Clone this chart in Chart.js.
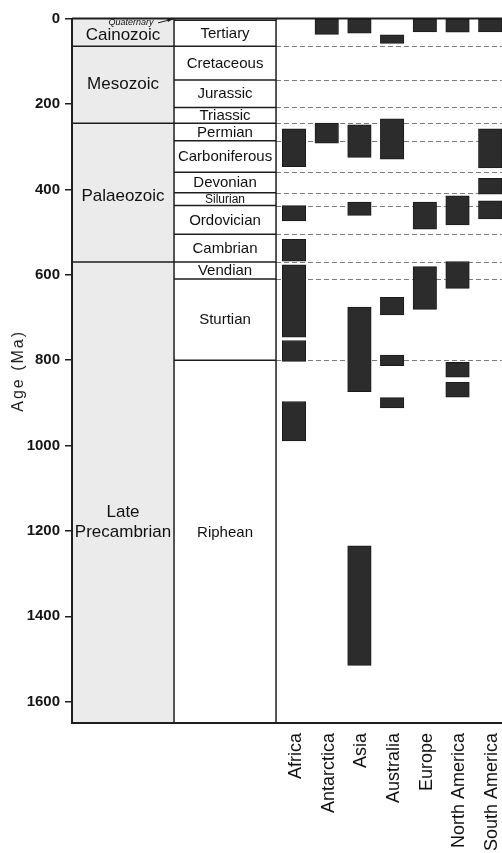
<!DOCTYPE html>
<html>
<head>
<meta charset="utf-8">
<script src="https://cdn.jsdelivr.net/npm/chart.js@4/dist/chart.umd.min.js"></script>
<style>
  html, body { margin: 0; padding: 0; background: #ffffff; overflow: hidden; }
  #wrap { width: 502px; height: 853px; }
</style>
</head>
<body>
<div id="wrap"><canvas id="c" width="502" height="853"></canvas></div>
<script>
// ---------------- data ----------------
const continents = ['Africa', 'Antarctica', 'Asia', 'Australia', 'Europe', 'North America', 'South America'];

// glaciation age ranges (Ma) per continent
const africa       = [[258, 347], [438, 474], [517, 568], [577, 746], [754, 803], [897, 989]];
const antarctica   = [[0, 37], [245, 292]];
const asia         = [[0, 34], [249, 325], [430, 461], [676, 874], [1235, 1515]];
const australia    = [[38, 58], [235, 329], [653, 694], [788, 813], [888, 912]];
const europe       = [[0, 31], [430, 493], [581, 681]];
const northAmerica = [[0, 32], [415, 483], [569, 632], [805, 840], [852, 887]];
const southAmerica = [[0, 31], [258, 350], [374, 411], [427, 469]];

// geological time scale (Ma)
const eras       = ['Cainozoic', 'Mesozoic', 'Palaeozoic', 'Late\nPrecambrian'];
const eraBounds  = [0, 65, 245, 570, 1650];
const periods    = ['Quaternary', 'Tertiary', 'Cretaceous', 'Jurassic', 'Triassic', 'Permian', 'Carboniferous',
                    'Devonian', 'Silurian', 'Ordovician', 'Cambrian', 'Vendian', 'Sturtian', 'Riphean'];
const periodBounds = [0, 4, 65, 144, 208, 245, 286, 360, 408, 438, 505, 570, 610, 800, 1650];

const ageTicks = [0, 200, 400, 600, 800, 1000, 1200, 1400, 1600];
const yTitle = 'Age (Ma)';

// ---------------- layout (x-scale units) ----------------
const X_MIN = -6.24, X_MAX = 6.91;
const ERA_L = -6.24, ERA_R = -3.12, PER_R = 0;
const CAT_OFFSET = 0.55;
const FONT = "'Liberation Sans', Arial, Helvetica, sans-serif";
// label anchor overrides (age at which a label is centred)
const eraLabelAt = [38, 155, 416, 1181];
const periodLabelAt = { 'Riphean': 1204 };

const ranges = [africa, antarctica, asia, australia, europe, northAmerica, southAmerica];
const barData = [];
ranges.forEach((list, i) => list.forEach(r => barData.push({ x: i + CAT_OFFSET, y: r })));

const tablePlugin = {
  id: 'geoTable',
  beforeDatasetsDraw(chart) {
    const { ctx, chartArea: ca, scales: { x, y } } = chart;
    const xe0 = x.getPixelForValue(ERA_L), xe1 = x.getPixelForValue(ERA_R), xp1 = x.getPixelForValue(PER_R);
    const yTop = y.getPixelForValue(0), yBot = y.getPixelForValue(1650);
    ctx.save();
    // era column fill
    ctx.fillStyle = '#ebebeb';
    ctx.fillRect(xe0 + 1, yTop, xe1 - xe0 - 1, yBot - yTop - 1);
    // dashed guide lines in data area
    ctx.strokeStyle = '#7a7a7a';
    ctx.lineWidth = 1;
    ctx.setLineDash([5, 3]);
    periodBounds.forEach(b => {
      if (b <= 4 || b >= 1650) return;
      const py = Math.round(y.getPixelForValue(b)) + 0.5;
      ctx.beginPath(); ctx.moveTo(xp1, py); ctx.lineTo(ca.right, py); ctx.stroke();
    });
    ctx.setLineDash([]);
    // solid table lines
    ctx.strokeStyle = '#1e1e1e';
    ctx.lineWidth = 1.5;
    periodBounds.forEach(b => {
      if (b <= 0 || b >= 1650) return;
      const py = y.getPixelForValue(b);
      ctx.beginPath(); ctx.moveTo(xe1, py); ctx.lineTo(xp1, py); ctx.stroke();
    });
    eraBounds.forEach(b => {
      if (b <= 0 || b >= 1650) return;
      const py = y.getPixelForValue(b);
      ctx.beginPath(); ctx.moveTo(xe0, py); ctx.lineTo(xe1, py); ctx.stroke();
    });
    [xe1, xp1].forEach(px => {
      ctx.beginPath(); ctx.moveTo(px, yTop); ctx.lineTo(px, yBot); ctx.stroke();
    });
    ctx.lineWidth = 2;
    ctx.beginPath(); ctx.moveTo(ca.left, yTop); ctx.lineTo(ca.right, yTop); ctx.stroke();

    // labels
    ctx.fillStyle = '#111111';
    ctx.textAlign = 'center';
    ctx.textBaseline = 'middle';
    const exc = (xe0 + xe1) / 2, pxc = (xe1 + xp1) / 2;
    ctx.font = '17px ' + FONT;
    eras.forEach((name, i) => {
      const lines = name.split('\n');
      const cy = y.getPixelForValue(eraLabelAt[i]);
      const lh = 20;
      lines.forEach((ln, k) => ctx.fillText(ln, exc, cy + (k - (lines.length - 1) / 2) * lh));
    });
    periods.forEach((name, i) => {
      if (name === 'Quaternary') return;
      const a = periodLabelAt[name] !== undefined ? periodLabelAt[name] : (periodBounds[i] + periodBounds[i + 1]) / 2;
      ctx.font = (name === 'Silurian' ? '12px ' : '15px ') + FONT;
      ctx.fillText(name, pxc, y.getPixelForValue(a) + 0.5);
    });
    // Quaternary: tiny label in era column with arrow
    ctx.font = 'italic 9px ' + FONT;
    const qy = y.getPixelForValue(10);
    ctx.fillText(periods[0], exc + 8, qy);
    ctx.lineWidth = 1;
    const ax = xe1 - 1, ay = y.getPixelForValue(1);
    ctx.beginPath(); ctx.moveTo(exc + 35, qy); ctx.lineTo(ax, ay); ctx.stroke();
    ctx.beginPath();
    ctx.moveTo(ax, ay); ctx.lineTo(ax - 6, ay - 1); ctx.lineTo(ax - 5, ay + 3); ctx.closePath();
    ctx.fillStyle = '#1e1e1e'; ctx.fill();
    // redraw left axis line over the fill
    ctx.lineWidth = 2;
    ctx.beginPath(); ctx.moveTo(ca.left, yTop); ctx.lineTo(ca.left, yBot); ctx.stroke();
    ctx.restore();
  }
};

const titleSpacing = {
  id: 'titleSpacing',
  beforeDraw(chart) {
    const s = chart.scales.y;
    if (s && !s._spaced) {
      const orig = s.drawTitle.bind(s);
      s.drawTitle = function () {
        const c = this.ctx;
        c.letterSpacing = '2px';
        orig();
        c.letterSpacing = '0px';
      };
      s._spaced = true;
    }
  }
};

new Chart(document.getElementById('c'), {
  type: 'bar',
  data: {
    datasets: [{
      data: barData,
      backgroundColor: '#2c2c2c',
      borderColor: '#1a1a1a',
      borderWidth: 1,
      borderSkipped: false,
      barThickness: 23.5
    }]
  },
  options: {
    responsive: false,
    animation: false,
    devicePixelRatio: 1,
    layout: { padding: { top: 18.6, right: 0, bottom: 0, left: 0 } },
    plugins: { legend: { display: false }, tooltip: { enabled: false } },
    scales: {
      x: {
        type: 'linear',
        offset: false,
        min: X_MIN,
        max: X_MAX,
        afterBuildTicks(s) { s.ticks = continents.map((c, i) => ({ value: i + CAT_OFFSET })); },
        afterFit(s) { s.height = 130; s.paddingLeft = 0; s.paddingRight = 0; },
        ticks: {
          autoSkip: false, maxRotation: 90, minRotation: 90, padding: 10, labelOffset: 2,
          font: { size: 18, family: FONT }, color: '#111',
          callback: (v, i) => continents[i]
        },
        grid: { display: false, drawTicks: false, offset: false },
        border: { display: true, color: '#1e1e1e', width: 2 }
      },
      y: {
        type: 'linear',
        reverse: true,
        min: 0,
        max: 1650,
        afterBuildTicks(s) { s.ticks = ageTicks.map(v => ({ value: v })); },
        afterFit(s) { s.width = 72; s.paddingTop = 0; s.paddingBottom = 0; },
        ticks: { padding: 5, font: { size: 15, weight: 'bold', family: FONT }, color: '#151515',
                 callback: v => String(v) },
        grid: { drawOnChartArea: false, drawTicks: true, tickLength: 7, color: '#1e1e1e', lineWidth: 1.5 },
        border: { display: true, color: '#1e1e1e', width: 2 },
        title: { display: true, text: yTitle, font: { size: 16, family: FONT }, color: '#222', padding: { top: 9, bottom: 0 } }
      }
    }
  },
  plugins: [titleSpacing, tablePlugin]
});
</script>
</body>
</html>
